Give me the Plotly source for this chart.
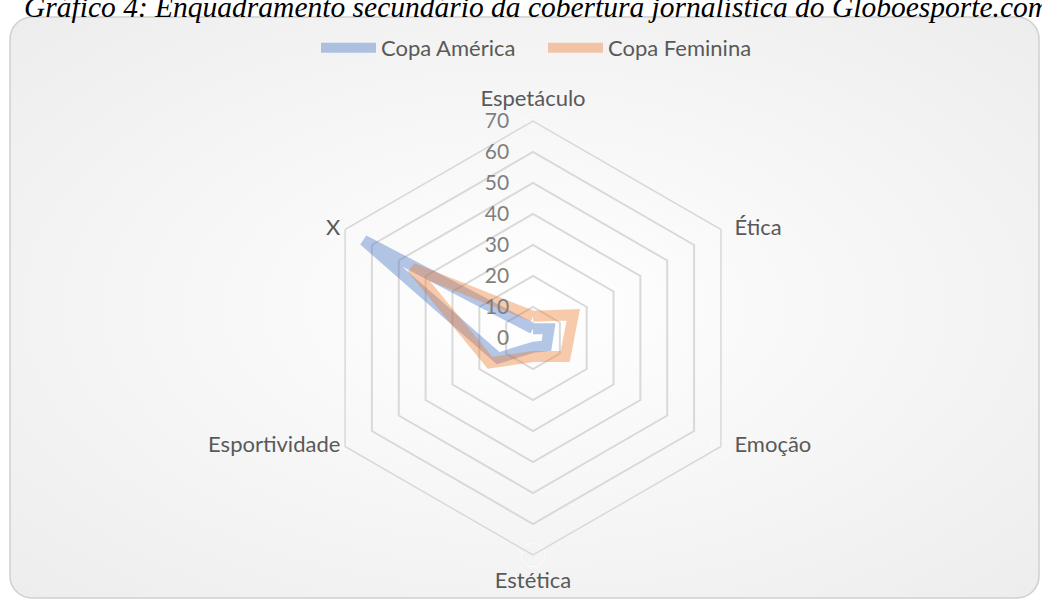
import base64
import plotly.graph_objects as go

categories = ["Espetáculo", "Ética", "Emoção", "Estética", "Esportividade", "X"]
copa_america = [3, 6, 5, 3, 13, 63]
copa_feminina = [7, 15, 12, 6, 16, 45]
series_names = ["Copa América", "Copa Feminina"]
radial_ticks = [0, 10, 20, 30, 40, 50, 60, 70]
title_text = "Gráfico 4: Enquadramento secundário da cobertura jornalística do Globoesporte.com"

W, H = 1042, 601
FONT = "Lato, 'Open Sans', sans-serif"
R_MAX = 70

# background card with radial gradient (Excel chart-area style)
svg = f'''<svg xmlns="http://www.w3.org/2000/svg" width="{W}" height="{H}" viewBox="0 0 {W} {H}">
<defs><radialGradient id="g" cx="50%" cy="50%" r="70%">
<stop offset="0%" stop-color="#ffffff"/><stop offset="100%" stop-color="#ededed"/></radialGradient></defs>
<rect x="10" y="17" width="1029" height="581" rx="22" ry="22" fill="url(#g)" stroke="#d0d0d0" stroke-width="1.5"/>
</svg>'''
src = "data:image/svg+xml;base64," + base64.b64encode(svg.encode()).decode()

fig = go.Figure()
fig.add_trace(go.Scatterpolar(
    r=copa_america + copa_america[:1], theta=categories + categories[:1],
    mode="lines", name=series_names[0], hoverinfo="skip",
    line=dict(color="rgba(68,114,196,0.4)", width=11),
))
fig.add_trace(go.Scatterpolar(
    r=copa_feminina + copa_feminina[:1], theta=categories + categories[:1],
    mode="lines", name=series_names[1], hoverinfo="skip",
    line=dict(color="rgba(237,125,49,0.4)", width=11),
))
# category labels placed beside the outer vertices (Excel radar style)
fig.add_trace(go.Scatterpolar(
    r=[R_MAX] * len(categories), theta=categories, text=categories,
    mode="markers+text", showlegend=False, hoverinfo="skip", cliponaxis=False,
    marker=dict(size=[14, 20, 20, 24, 6, 6], color="rgba(0,0,0,0)"),
    textposition=["top center", "middle right", "middle right",
                  "bottom center", "middle left", "middle left"],
    textfont=dict(size=22, color="#595959", family=FONT),
))

cx, cy, R = 533, 338, 217
fig.update_layout(
    width=W, height=H,
    margin=dict(l=0, r=0, t=0, b=0),
    paper_bgcolor="white",
    font=dict(family=FONT, color="#595959", size=22),
    images=[dict(source=src, xref="paper", yref="paper", x=0, y=1, sizex=1, sizey=1,
                 xanchor="left", yanchor="top", sizing="stretch", layer="below")],
    polar=dict(
        domain=dict(x=[(cx - R) / W, (cx + R) / W], y=[1 - (cy + R) / H, 1 - (cy - R) / H]),
        bgcolor="rgba(0,0,0,0)",
        gridshape="linear",
        radialaxis=dict(
            range=[0, R_MAX], tickvals=radial_ticks, angle=90, tickangle=90,
            side="counterclockwise",
            showline=False, gridcolor="#d9d9d9", gridwidth=1.5,
            ticks="outside", ticklen=16, tickcolor="rgba(0,0,0,0)",
            tickfont=dict(size=21, color="#7f7f7f", family=FONT),
        ),
        angularaxis=dict(
            rotation=90, direction="clockwise",
            showgrid=False, showline=True, linecolor="#d9d9d9", linewidth=1.5,
            ticks="", showticklabels=False,
        ),
    ),
    legend=dict(
        orientation="h", x=316 / W, y=1 - 27 / H, xanchor="left", yanchor="top",
        bgcolor="rgba(0,0,0,0)", font=dict(size=22, color="#595959", family=FONT),
        itemwidth=55, tracegroupgap=0, entrywidth=157, entrywidthmode="pixels",
    ),
    annotations=[dict(
        text=title_text, xref="paper", yref="paper", x=22 / W, y=1 - 25 / H,
        xanchor="left", yanchor="bottom", showarrow=False,
        font=dict(family="'Liberation Serif', 'Times New Roman', serif", size=29.5, color="black", style="italic"),
    )],
)

fig.write_html("out.html", config={"displayModeBar": False},
               post_script="document.body.style.margin='0';")
